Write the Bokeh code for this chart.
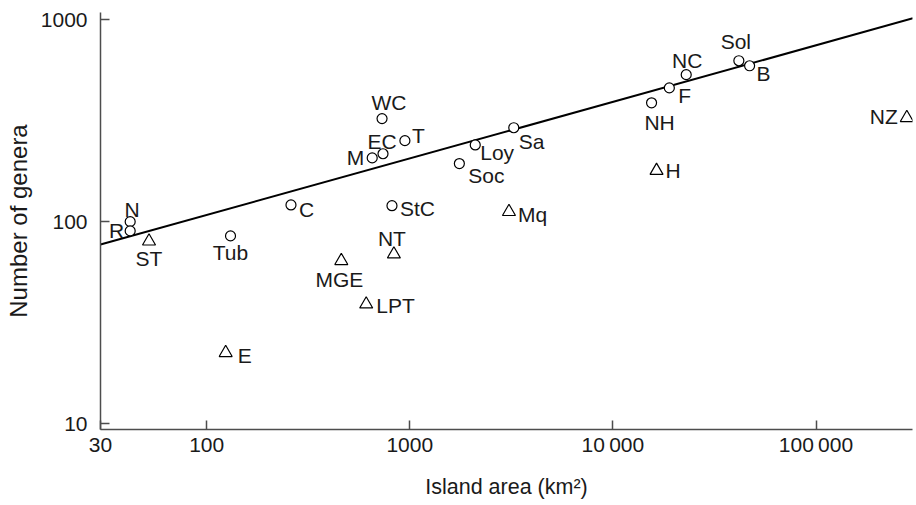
from bokeh.plotting import figure
from bokeh.models import ColumnDataSource, FixedTicker, Range1d
from bokeh.embed import file_html
from bokeh.resources import INLINE
from bokeh.core.properties import value

# ---------------- data ----------------
circle_names = ["N", "R", "Tub", "C", "WC", "EC", "M", "T", "StC", "Soc", "Loy",
                "Sa", "NH", "F", "NC", "Sol", "B"]
circle_area = [42, 42, 131, 260, 730, 738, 653, 946, 817, 1754, 2100,
               3250, 15500, 18960, 22960, 41700, 47100]
circle_genera = [100, 90, 85, 121, 324, 217, 207, 252, 120, 194, 240,
                 292, 388, 460, 535, 627, 592]

triangle_names = ["ST", "NT", "MGE", "LPT", "E", "Mq", "H", "NZ"]
triangle_area = [52, 835, 460, 610, 124, 3078, 16400, 280000]
triangle_genera = [80, 69, 64, 39, 22.4, 112, 179, 327]

fit_area = [30, 300000]
fit_genera = [77, 1017]

x_ticks = [30, 100, 1000, 10000, 100000]
x_tick_labels = ["30", "100", "1000", "10\u2009000", "100\u2009000"]
y_ticks = [10, 100, 1000]
y_tick_labels = ["10", "100", "1000"]

# ---------------- label layout (screen px, y downwards) ----------------
label_layout = {
    "N": ("center", 2, -12), "R": ("right", -6, 0), "ST": ("center", 0, 17),
    "Tub": ("center", 0, 17), "C": ("left", 8, 5), "WC": ("center", 7, -16),
    "EC": ("center", -1, -12), "M": ("right", -8, 0), "T": ("left", 7, -5),
    "StC": ("left", 8, 3), "NT": ("center", -2, -16), "MGE": ("center", -2, 19),
    "LPT": ("left", 10, 1), "E": ("left", 12, 3), "Soc": ("left", 9, 12),
    "Loy": ("left", 5, 8), "Sa": ("left", 5, 14), "Mq": ("left", 9, 3),
    "NH": ("center", 8, 20), "F": ("left", 9, 8), "NC": ("center", 1, -14),
    "Sol": ("center", -3, -19), "B": ("left", 7, 8), "H": ("left", 9, 0),
    "NZ": ("right", -9, -1),
}

FONT = "Liberation Sans"

p = figure(width=916, height=505, x_axis_type="log", y_axis_type="log",
           x_range=Range1d(30, 298600), y_range=Range1d(9.34, 1087),
           output_backend="svg", toolbar_location=None,
           min_border_left=100, min_border_right=4, min_border_top=12,
           min_border_bottom=76)
p.outline_line_color = None
p.grid.visible = False
p.background_fill_color = "white"
p.border_fill_color = "white"

# regression line
p.line(fit_area, fit_genera, line_color="black", line_width=2)

# markers
p.scatter(circle_area, circle_genera, marker="circle", size=10,
          fill_color="white", line_color="black", line_width=1.2)
p.scatter(triangle_area, triangle_genera, marker="triangle", size=13,
          fill_color="white", line_color="black", line_width=1.2)

# point labels
names = circle_names + triangle_names
xs = circle_area + triangle_area
ys = circle_genera + triangle_genera
src = ColumnDataSource(dict(
    x=xs, y=ys, text=names,
    align=[label_layout[n][0] for n in names],
    dx=[label_layout[n][1] for n in names],
    dy=[label_layout[n][2] for n in names],
))
p.text(x="x", y="y", text="text", source=src, x_offset="dx", y_offset="dy",
       text_align="align", text_baseline="middle",
       text_font=value(FONT), text_font_size="21px", text_color="#1a1a1a")

# axes
for ax in (p.xaxis[0], p.yaxis[0]):
    ax.axis_line_color = "#4d4d4d"
    ax.axis_line_width = 1.5
    ax.major_tick_line_color = "#4d4d4d"
    ax.major_tick_line_width = 1.5
    ax.major_tick_in = 9
    ax.major_tick_out = 0
    ax.minor_tick_line_color = None
    ax.major_label_text_font = FONT
    ax.major_label_text_font_size = "21px"
    ax.major_label_text_color = "#1a1a1a"
    ax.axis_label_text_font = FONT
    ax.axis_label_text_font_style = "normal"
    ax.axis_label_text_color = "#1a1a1a"

p.xaxis.ticker = FixedTicker(ticks=x_ticks)
p.xaxis.major_label_overrides = {t: l for t, l in zip(x_ticks, x_tick_labels)}
p.yaxis.ticker = FixedTicker(ticks=y_ticks)
p.yaxis.major_label_overrides = {t: l for t, l in zip(y_ticks, y_tick_labels)}

p.xaxis.axis_label = "Island area (km\u00b2)"
p.yaxis.axis_label = "Number of genera"
p.xaxis.axis_label_text_font_size = "21.5px"
p.yaxis.axis_label_text_font_size = "24px"
p.xaxis.major_label_standoff = 3
p.yaxis.major_label_standoff = 13
p.xaxis.axis_label_standoff = 16
p.yaxis.axis_label_standoff = 6

open("out.html", "w").write(file_html(p, INLINE))
